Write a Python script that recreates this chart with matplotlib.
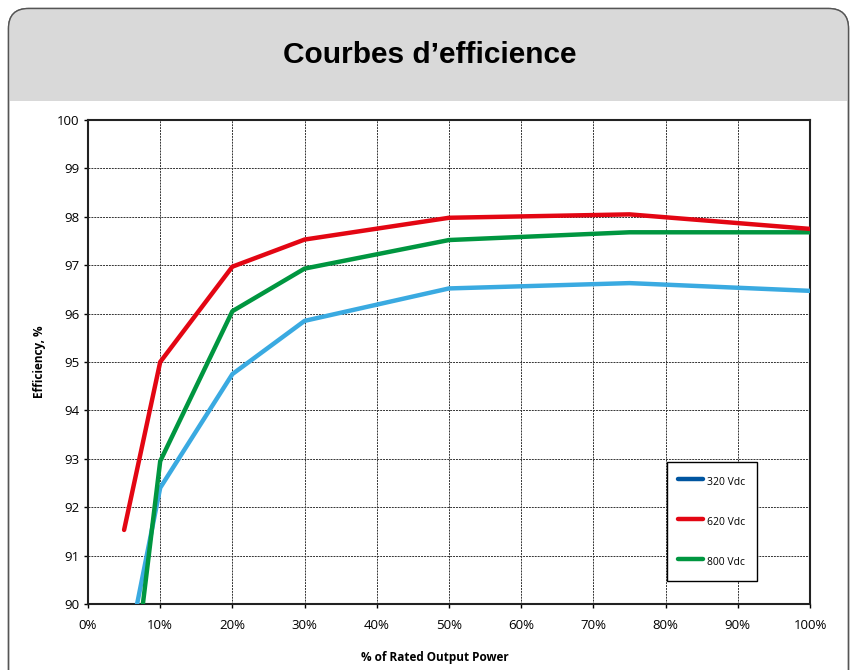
import matplotlib.pyplot as plt
from matplotlib.patches import FancyBboxPatch, Rectangle
from matplotlib.lines import Line2D
from matplotlib.ticker import FuncFormatter, MultipleLocator

# load points (% of rated power) and efficiency (%) per DC input voltage
load_320 = [5, 10, 20, 30, 50, 75, 100]
eff_320 = [88.65, 92.4, 94.75, 95.85, 96.52, 96.63, 96.47]
load_620 = [5, 10, 20, 30, 50, 75, 100]
eff_620 = [91.53, 95.0, 96.97, 97.53, 97.98, 98.05, 97.75]
load_800 = [5, 10, 20, 30, 50, 75, 100]
eff_800 = [86.8, 92.95, 96.05, 96.93, 97.52, 97.68, 97.68]
labels = ['320 Vdc', '620 Vdc', '800 Vdc']

W, H = 852, 670
fig = plt.figure(figsize=(W / 100, H / 100), dpi=100)

# background layer in pixel units: rounded frame + grey header band
bg = fig.add_axes([0, 0, 1, 1], zorder=0)
bg.set_xlim(0, W)
bg.set_ylim(H, 0)
bg.axis('off')
frame = FancyBboxPatch((8.5, 8.5), 840, 720, boxstyle='round,pad=0,rounding_size=20',
                       facecolor='white', edgecolor='#555555', linewidth=1.0)
bg.add_patch(frame)
header = Rectangle((8, 8), 842, 93, facecolor='#d9d9d9', edgecolor='none')
bg.add_patch(header)
header.set_clip_path(frame)
bg.add_patch(FancyBboxPatch((8.5, 8.5), 840, 720, boxstyle='round,pad=0,rounding_size=20',
                            facecolor='none', edgecolor='#555555', linewidth=1.0))
bg.text(430, 55, 'Courbes d\u2019efficience', ha='center', va='center',
        family='Liberation Sans', fontweight='bold', fontsize=21.5)

ax = fig.add_axes([88 / W, 1 - 604 / H, (810 - 88) / W, (604 - 120) / H], zorder=1)
ax.set_xlim(0, 100)
ax.set_ylim(90, 100)

ax.plot(load_320, eff_320, color='#3aaae1', lw=3.2, solid_capstyle='round', zorder=3)
ax.plot(load_620, eff_620, color='#e30613', lw=3.2, solid_capstyle='round', zorder=4)
ax.plot(load_800, eff_800, color='#009640', lw=3.2, solid_capstyle='round', zorder=3)

ax.xaxis.set_major_locator(MultipleLocator(10))
ax.yaxis.set_major_locator(MultipleLocator(1))
ax.xaxis.set_major_formatter(FuncFormatter(lambda v, p: f'{v:.0f}%'))
ax.grid(True, color='#333333', linestyle=(0, (2, 1)), linewidth=0.7, zorder=1)
for s in ax.spines.values():
    s.set_linewidth(1.5)
    s.set_color('#222222')
ax.tick_params(direction='out', length=3, width=1, labelsize=9.5)
ax.tick_params(axis='y', pad=3)
ax.tick_params(axis='x', pad=8)
for lab in ax.get_xticklabels() + ax.get_yticklabels():
    lab.set_family('Open Sans')

ax.set_xlabel('% of Rated Output Power', family='Open Sans', fontweight='bold',
              fontsize=8.5)
ax.xaxis.set_label_coords(0.48, -0.098)
ax.set_ylabel('Efficiency, %', family='Open Sans', fontweight='bold',
              fontsize=8.5, labelpad=8)

handles = [Line2D([], [], color=c, lw=3.2, solid_capstyle='round')
           for c in ['#0055a0', '#e30613', '#009640']]
leg = ax.legend(handles, labels, loc='upper left',
                bbox_to_anchor=((667 - 88) / (810 - 88), (604 - 462) / 484),
                prop={'family': 'Open Sans', 'size': 7.5}, handlelength=2.4,
                handleheight=2.0, handletextpad=0.35, labelspacing=2.3,
                borderpad=1.1, borderaxespad=0,
                fancybox=False, framealpha=1, edgecolor='black')
leg.get_frame().set_linewidth(1.0)
leg.set_zorder(5)

fig.savefig('out.png', dpi=100)
